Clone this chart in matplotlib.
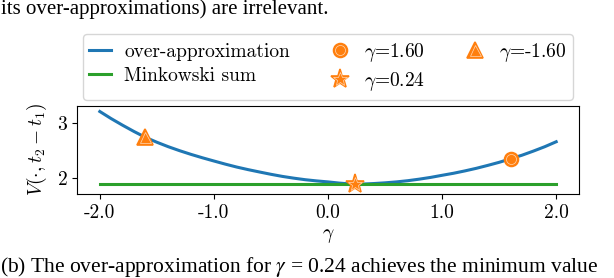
import matplotlib
matplotlib.use("Agg")
import matplotlib.pyplot as plt
from matplotlib.ticker import FormatStrFormatter

# over-approximation value per gamma
gamma = [-2.0, -1.9, -1.8, -1.7, -1.6, -1.5, -1.4, -1.3, -1.2, -1.1, -1.0,
         -0.9, -0.8, -0.7, -0.6, -0.5, -0.4, -0.3, -0.2, -0.1, 0.0,
         0.1, 0.2, 0.3, 0.4, 0.5, 0.6, 0.7, 0.8, 0.9, 1.0,
         1.1, 1.2, 1.3, 1.4, 1.5, 1.6, 1.7, 1.8, 1.9, 2.0]
over_approx = [3.21, 3.08, 2.96, 2.846, 2.74, 2.651, 2.57, 2.497, 2.43, 2.368, 2.31,
               2.253, 2.20, 2.153, 2.11, 2.068, 2.03, 1.998, 1.97, 1.948, 1.93,
               1.908, 1.892, 1.89, 1.90, 1.913, 1.93, 1.952, 1.98, 2.012, 2.05,
               2.087, 2.13, 2.177, 2.23, 2.286, 2.35, 2.415, 2.49, 2.57, 2.66]
minkowski = [1.89] * len(gamma)

# highlighted gammas
pt_gamma = [1.60, 0.24, -1.60]
pt_value = [2.35, 1.89, 2.74]
pt_marker = ["o", "*", "^"]
pt_size = [10, 14, 11]

plt.rcParams["font.family"] = ["cmr10"]
plt.rcParams["mathtext.fontset"] = "cm"
plt.rcParams["axes.unicode_minus"] = False
plt.rcParams["axes.formatter.use_mathtext"] = True

fig = plt.figure(figsize=(6.14, 2.78), dpi=100)
ax = fig.add_axes([77 / 614, 1 - 194 / 278, 502 / 614, 88 / 278])

h_over, = ax.plot(gamma, over_approx, color="C0", lw=2.2, label="over-approximation")
h_mink, = ax.plot(gamma, minkowski, color="C2", lw=2.2, label="Minkowski sum")

pt_handles = []
for g, v, m, s in zip(pt_gamma, pt_value, pt_marker, pt_size):
    a, = ax.plot([g], [v], ls="none", marker=m, ms=s, mfc="C1", mec="C1", mew=1.2, zorder=3)
    b, = ax.plot([g], [v], ls="none", marker=m, ms=s * 0.72, mfc="none", mec="white",
                 mew=0.5, alpha=0.7, zorder=4)
    pt_handles.append((a, b))

ax.set_xlim(-2.2, 2.2)
ax.set_ylim(1.71, 3.31)
ax.set_xticks([-2.0, -1.0, 0.0, 1.0, 2.0])
ax.set_yticks([2, 3])
ax.xaxis.set_major_formatter(FormatStrFormatter("%.1f"))
ax.yaxis.set_major_formatter(FormatStrFormatter("%d"))
ax.tick_params(labelsize=14)
ax.set_xlabel(r"$\gamma$", fontsize=14, labelpad=4)
ax.set_ylabel(r"$V(\cdot, t_2 - t_1)$", fontsize=14, labelpad=6)

handles = [h_over, h_mink, pt_handles[0], pt_handles[1], pt_handles[2]]
labels = ["over-approximation", "Minkowski sum",
          r"$\gamma$=1.60", r"$\gamma$=0.24", r"$\gamma$=-1.60"]
fig.legend(handles, labels, loc="center", bbox_to_anchor=(328 / 614, 1 - 67 / 278), ncol=3,
           fontsize=14, frameon=True, edgecolor="#cccccc", fancybox=True,
           handlelength=1.1, columnspacing=2.0, handletextpad=0.7,
           labelspacing=0.3, borderpad=0.35)

# surrounding paper text
fig.text(1 / 614, 1 - 14 / 278, "its over-approximations) are irrelevant.",
         family="Liberation Serif", fontsize=15, va="baseline", ha="left")
fig.text(0.5 / 614, 1 - 272 / 278,
         r"(b) The over-approximation for $\gamma$ = 0.24 achieves the minimum value",
         family="Liberation Serif", math_fontfamily="stix", fontsize=15.5,
         va="baseline", ha="left")

fig.savefig("out.png", dpi=100)
